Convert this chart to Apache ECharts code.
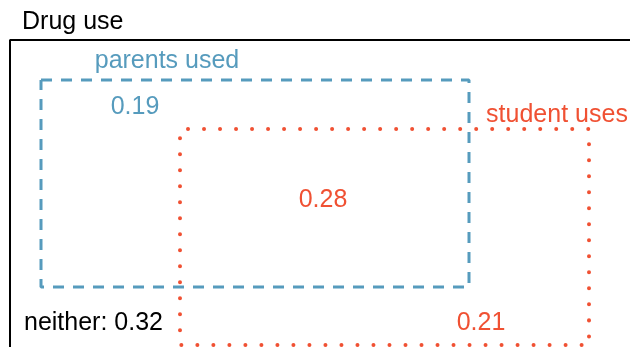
<!DOCTYPE html>
<html>
<head>
<meta charset="utf-8">
<script src="https://cdn.jsdelivr.net/npm/echarts@6/dist/echarts.min.js"></script>
<style>html,body{margin:0;padding:0;background:#fff}#c{width:630px;height:347px}</style>
</head>
<body>
<div id="c"></div>
<script>
// ---- data ----
const chartTitle = 'Drug use';
const setNames = ['parents used', 'student uses'];
const regionNames = ['parents only', 'both', 'student only', 'neither'];
const regionProbs = [0.19, 0.28, 0.21, 0.32];

// set boxes in the diagram's frame: [x0, y0, x1, y1]
const parentsBox = [41, 80, 469, 287];
const studentBox = [180, 129, 589, 345];
const universeBox = [10, 40, 700, 400];

// ---- layout ----
const setLabelAt = [[167, 61], [557, 115]];
const regionLabelAt = [[135, 107], [323, 200], [481, 323], [24, 323]];

const BLUE = '#569BBD';
const RED = '#F05133';
const FONT = "'Liberation Sans', Arial, sans-serif";
const FS = 25;

function boxPath(b) {
  return [[b[0], b[1]], [b[2], b[1]], [b[2], b[3]], [b[0], b[3]], [b[0], b[1]]];
}

const chart = echarts.init(document.getElementById('c'), null, {renderer: 'canvas'});
const labelSeries = [];
setNames.forEach((n, i) => {
  labelSeries.push({
    type: 'scatter', symbolSize: 0, silent: true, z: 10,
    itemStyle: {opacity: 1},
    data: [{value: setLabelAt[i], name: n}],
    label: {show: true, position: 'inside', formatter: n,
      color: i === 0 ? BLUE : RED, fontSize: FS, fontFamily: FONT}
  });
});
regionNames.forEach((n, i) => {
  const colors = [BLUE, RED, RED, '#000'];
  const isNeither = i === 3;
  labelSeries.push({
    type: 'scatter', symbolSize: 0, silent: true, z: 10,
    itemStyle: {opacity: 1},
    data: [{value: regionLabelAt[i], name: n}],
    label: {show: true,
      position: isNeither ? 'right' : 'inside', distance: 0,
      formatter: (isNeither ? 'neither: ' : '') + regionProbs[i].toFixed(2),
      color: colors[i], fontSize: FS, fontFamily: FONT}
  });
});

chart.setOption({
  animation: false,
  backgroundColor: '#fff',
  title: {text: chartTitle, left: 22, top: 10, padding: 0,
    textStyle: {color: '#000', fontSize: FS, fontWeight: 'normal', fontFamily: FONT}},
  grid: {left: 0, right: 0, top: 0, bottom: 0},
  xAxis: {type: 'value', min: 0, max: 630, show: false},
  yAxis: {type: 'value', min: 0, max: 347, inverse: true, show: false},
  series: [
    {type: 'line', symbol: 'none', silent: true,
      data: [[universeBox[0], universeBox[3]], [universeBox[0], universeBox[1]], [universeBox[2], universeBox[1]]],
      lineStyle: {color: '#000', width: 2}},
    {type: 'line', symbol: 'none', silent: true, z: 3,
      data: boxPath(parentsBox),
      lineStyle: {color: BLUE, width: 3, type: [11, 9], cap: 'butt'}},
    {type: 'line', symbol: 'none', silent: true, z: 4,
      data: boxPath(studentBox),
      lineStyle: {color: RED, width: 4, type: [0.01, 16], dashOffset: -8, cap: 'round'}}
  ].concat(labelSeries)
});
</script>
</body>
</html>
